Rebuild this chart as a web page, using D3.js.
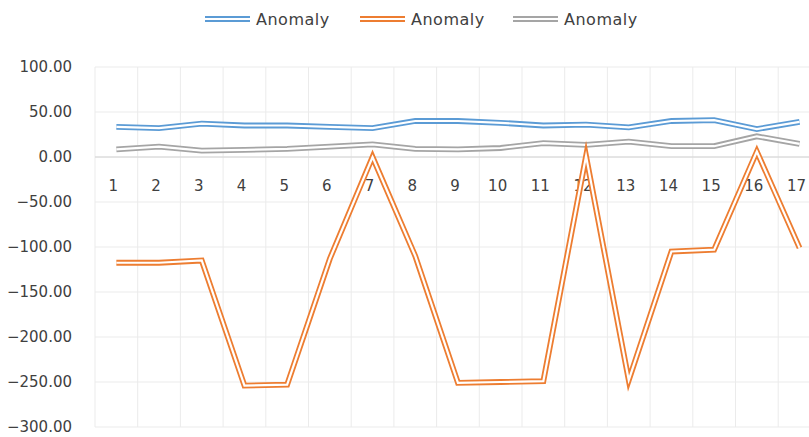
<!DOCTYPE html>
<html>
<head>
<meta charset="utf-8">
<script src="https://cdn.jsdelivr.net/npm/d3@7"></script>
<style>
  body { margin: 0; background: #fff; overflow: hidden; }
  text { font-family: "DejaVu Sans", sans-serif; fill: #404040; }
</style>
</head>
<body>
<script>
var categories = ["1","2","3","4","5","6","7","8","9","10","11","12","13","14","15","16","17"];
var seriesNames = ["Anomaly", "Anomaly", "Anomaly"];
var blueValues   = [33.5, 32, 37, 35, 35, 33.5, 32, 40, 40, 38, 35, 36, 33, 40, 41, 31, 39];
var orangeValues = [-117.5, -117.5, -115, -254, -253, -113, 0, -110, -251, -250, -249, 1, -248, -105, -103, 6, -101];
var grayValues   = [8.5, 11.5, 7, 8, 9, 11.5, 14, 9, 8.5, 10, 15.5, 13.5, 17, 12, 12, 23, 14.5];
var yTicks = [100, 50, 0, -50, -100, -150, -200, -250, -300];
var colors = ["#5b9bd5", "#ed7d31", "#a5a5a5"];

var width = 809, height = 437;
var plotLeft = 95, plotTop = 67, plotBottom = 427;
var step = 42.7;

var svg = d3.select("body").append("svg")
    .attr("width", width)
    .attr("height", height);

var x = d3.scaleBand()
    .domain(categories)
    .range([plotLeft, plotLeft + step * categories.length])
    .padding(0);

var y = d3.scaleLinear()
    .domain([-300, 100])
    .range([plotBottom, plotTop]);

// horizontal gridlines
svg.append("g").selectAll("line")
    .data(yTicks)
    .enter().append("line")
    .attr("x1", plotLeft)
    .attr("x2", plotLeft + step * categories.length)
    .attr("y1", function(d) { return y(d); })
    .attr("y2", function(d) { return y(d); })
    .attr("stroke", "#ebebeb")
    .attr("stroke-width", 1);

// vertical gridlines at category boundaries
svg.append("g").selectAll("line")
    .data(categories)
    .enter().append("line")
    .attr("x1", function(d) { return x(d); })
    .attr("x2", function(d) { return x(d); })
    .attr("y1", plotTop)
    .attr("y2", plotBottom)
    .attr("stroke", "#ebebeb")
    .attr("stroke-width", 1);

// zero line (category axis)
svg.append("line")
    .attr("x1", plotLeft)
    .attr("x2", plotLeft + step * categories.length)
    .attr("y1", y(0))
    .attr("y2", y(0))
    .attr("stroke", "#d4d4d4")
    .attr("stroke-width", 1);

// y tick labels
var yAxis = d3.axisLeft(y).tickValues(yTicks).tickFormat(d3.format(".2f")).tickSize(0).tickPadding(23);
var ga = svg.append("g").attr("transform", "translate(" + plotLeft + ",0)").call(yAxis);
ga.select(".domain").remove();
ga.selectAll("text")
    .attr("font-size", "15px")
    .attr("font-family", "DejaVu Sans, sans-serif")
    .attr("fill", "#404040");

// category labels sitting under the zero line
svg.append("g").selectAll("text")
    .data(categories)
    .enter().append("text")
    .attr("x", function(d) { return x(d) + x.bandwidth() / 2 - 3; })
    .attr("y", y(0) + 34)
    .attr("text-anchor", "middle")
    .attr("font-size", "15px")
    .text(function(d) { return d; });

// double lines
var line = d3.line()
    .x(function(d, i) { return x(categories[i]) + x.bandwidth() / 2; })
    .y(function(d) { return y(d); });

var allSeries = [blueValues, grayValues, orangeValues];
var allColors = [colors[0], colors[2], colors[1]];
allSeries.forEach(function(vals, k) {
  svg.append("path")
    .datum(vals)
    .attr("d", line)
    .attr("fill", "none")
    .attr("stroke", allColors[k])
    .attr("stroke-width", 5.8)
    .attr("stroke-linejoin", "miter")
    .attr("stroke-miterlimit", 10);
  svg.append("path")
    .datum(vals)
    .attr("d", line)
    .attr("fill", "none")
    .attr("stroke", "#fff")
    .attr("stroke-width", 2.2)
    .attr("stroke-linejoin", "miter")
    .attr("stroke-miterlimit", 10);
});

// legend
var legendX = [205, 360, 513];
var leg = svg.append("g").selectAll("g")
    .data(seriesNames)
    .enter().append("g")
    .attr("transform", function(d, i) { return "translate(" + legendX[i] + ",19)"; });
leg.append("line")
    .attr("x1", 0).attr("x2", 45)
    .attr("stroke", function(d, i) { return colors[i]; })
    .attr("stroke-width", 5.8);
leg.append("line")
    .attr("x1", 0).attr("x2", 45)
    .attr("stroke", "#fff")
    .attr("stroke-width", 2.2);
leg.append("text")
    .attr("x", 51)
    .attr("y", 6)
    .attr("font-size", "16px")
    .style("letter-spacing", "0.5px")
    .text(function(d) { return d; });
</script>
</body>
</html>
